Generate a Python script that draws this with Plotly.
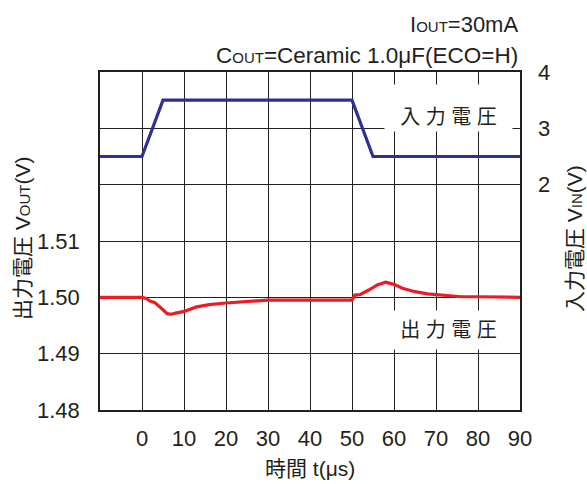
import plotly.graph_objects as go

# Data
t_in = [-10, 0, 5, 50, 55, 90]
v_in = [2.5, 2.5, 3.5, 3.5, 2.5, 2.5]

t_out = [-10, -5, 0, 1, 2, 3, 4, 5, 6, 7, 8, 10, 13, 16, 20, 25, 30, 40, 50, 50.7, 52, 54, 56, 58, 60, 62, 65, 68, 72, 76, 80, 85, 90]
v_out = [1.5000, 1.5000, 1.5000, 1.4998, 1.4993, 1.4991, 1.4985, 1.4978, 1.4971, 1.4970, 1.4972, 1.4975, 1.4983, 1.4987, 1.4990, 1.4993, 1.4995, 1.4995, 1.4995, 1.5004, 1.5005, 1.5013, 1.5022, 1.5027, 1.5023, 1.5016, 1.5010, 1.5006, 1.5003, 1.5001, 1.5001, 1.5000, 1.5000]

x_ticks = [-10, 0, 10, 20, 30, 40, 50, 60, 70, 80, 90]
x_labels = ["", "0", "10", "20", "30", "40", "50", "60", "70", "80", "90"]
yl_ticks = [1.48, 1.49, 1.50, 1.51, 1.52, 1.53, 1.54]
yl_labels = ["1.48", "1.49", "1.50", "1.51", "", "", ""]
yr_ticks = [2, 3, 4]
yr_labels = ["2", "3", "4"]

FONT = "Liberation Sans, Arial, Noto Sans CJK JP, sans-serif"
TXT = "#231f20"
GRID = "#231f20"
FS = 22

fig = go.Figure()
fig.add_trace(go.Scatter(x=t_out, y=v_out, mode="lines", line=dict(color="#ec1c24", width=3.2),
                         yaxis="y", showlegend=False))
fig.add_trace(go.Scatter(x=t_in, y=v_in, mode="lines", line=dict(color="#2e3192", width=3.2),
                         yaxis="y2", showlegend=False))

fig.update_layout(
    width=587, height=484,
    margin=dict(l=100, r=67, t=72, b=74),
    paper_bgcolor="white", plot_bgcolor="white",
    font=dict(family=FONT, size=FS, color=TXT),
    xaxis=dict(range=[-10, 90], tickvals=x_ticks, ticktext=x_labels, showgrid=True,
               gridcolor=GRID, gridwidth=1.3, showline=True, linecolor=GRID, linewidth=1.5,
               mirror=True, ticks="", zeroline=False, ticklabelstandoff=8,
               tickfont=dict(size=FS)),
    yaxis=dict(range=[1.48, 1.54], tickvals=yl_ticks, ticktext=yl_labels, showgrid=True,
               gridcolor=GRID, gridwidth=1.3, showline=True, linecolor=GRID, linewidth=1.5,
               mirror=True, ticks="", zeroline=False, ticklabelstandoff=14,
               tickfont=dict(size=FS)),
    yaxis2=dict(range=[-2, 4], tickvals=yr_ticks, ticktext=yr_labels, overlaying="y",
                side="right", showgrid=False, zeroline=False, ticks="", showline=False,
                ticklabelstandoff=17, tickfont=dict(size=FS)),
)

small = "<span style='font-size:15px'>{}</span>"
fig.add_annotation(text="I" + small.format("OUT") + "=30mA", xref="paper", yref="paper",
                   x=1.0, y=1.0, yshift=48, xanchor="right", yanchor="middle",
                   showarrow=False, font=dict(size=FS))
fig.add_annotation(text="C" + small.format("OUT") + "=Ceramic 1.0μF(ECO=H)", xref="paper", yref="paper",
                   x=1.0, y=1.0, yshift=17, xanchor="right", yanchor="middle",
                   showarrow=False, font=dict(size=22.5))
# In-plot labels
fig.add_annotation(text="入 力 電 圧", x=73, y=3.36, xref="x", yref="y2", showarrow=False,
                   bgcolor="white", font=dict(size=20), borderpad=3, width=121, height=40,
                   valign="bottom")
fig.add_annotation(text="出 力 電 圧", x=73, y=1.4942, xref="x", yref="y", showarrow=False,
                   bgcolor="white", font=dict(size=20), borderpad=3, width=121, height=32)
# Axis titles
fig.add_annotation(text="出力電圧 V" + small.format("OUT") + "(V)", xref="paper", yref="paper",
                   x=0, y=0.5, xshift=-78, yshift=3, xanchor="center", yanchor="middle",
                   textangle=-90, showarrow=False, font=dict(size=21))
fig.add_annotation(text="入力電圧 V" + small.format("IN") + "(V)", xref="paper", yref="paper",
                   x=1, y=0.5, xshift=54, yshift=2, xanchor="center", yanchor="middle",
                   textangle=-90, showarrow=False, font=dict(size=21))
fig.add_annotation(text="時間 t(μs)", xref="paper", yref="paper",
                   x=0.5, y=0, yshift=-58, xanchor="center", yanchor="middle",
                   showarrow=False, font=dict(size=21))

fig.write_html("out.html", config={"displayModeBar": False},
               post_script="document.body.style.margin='0';")
